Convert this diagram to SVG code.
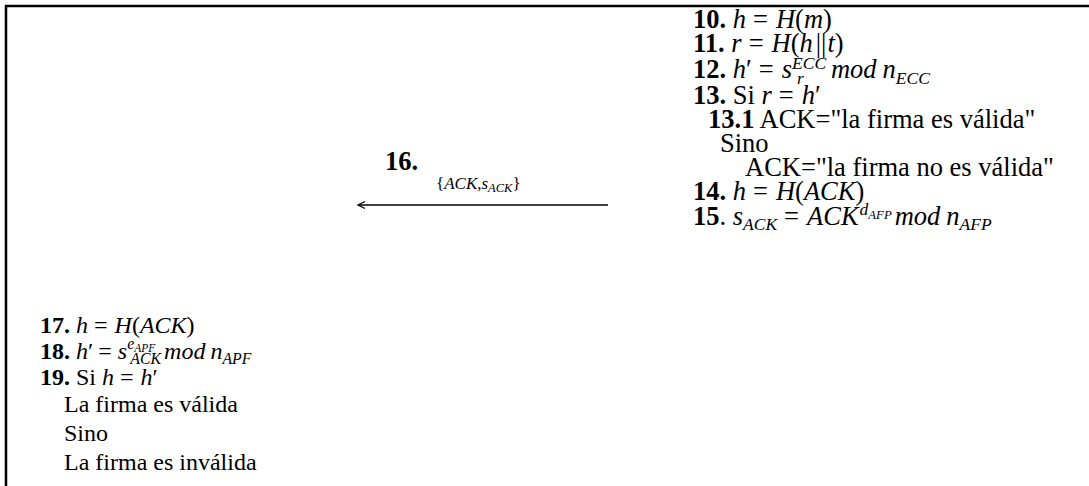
<svg xmlns="http://www.w3.org/2000/svg" width="1089" height="486" viewBox="0 0 1089 486">
  <style>
    text { font-family: "Liberation Serif", "Times New Roman", serif; fill: #000; }
    .r { font-size: 26.5px; }
    .l { font-size: 24px; }
    .b { font-weight: bold; }
    .m { font-style: italic; }
    .s { font-size: 0.66em; font-style: italic; }
    .ss { font-size: 0.48em; font-style: italic; }
    .lbl { font-size: 17px; }
    .lbl-s { font-size: 12.5px; font-style: italic; }
    .frame { fill: none; stroke: #000; stroke-width: 2.5; }
    .conn { stroke: #000; stroke-width: 1.3; fill: none; }
  </style>
  <defs>
    <marker id="head" viewBox="0 0 10 10" refX="9" refY="5" markerWidth="10" markerHeight="10" markerUnits="userSpaceOnUse" orient="auto">
      <path d="M2,1.5 L9,5 L2,8.5" fill="none" stroke="#000" stroke-width="1.2"/>
    </marker>
  </defs>

  <!-- frame: top rule and left rule -->
  <path class="frame" d="M6,486 V6 H1089"/>

  <!-- verifier side: steps 10-15 -->
  <g id="verifier">
    <text class="r" x="693" y="28"><tspan class="b">10.</tspan> <tspan class="m">h</tspan><tspan dx="7">=</tspan><tspan class="m" dx="8">H</tspan>(<tspan class="m">m</tspan>)</text>
    <text class="r" x="693" y="52"><tspan class="b">11.</tspan> <tspan class="m">r</tspan><tspan dx="7">=</tspan><tspan class="m" dx="8">H</tspan>(<tspan class="m">h</tspan><tspan dx="3">||</tspan><tspan class="m" dx="1">t</tspan>)</text>
    <text class="r" x="693" y="78"><tspan class="b">12.</tspan> <tspan class="m">h</tspan>′<tspan dx="7">=</tspan><tspan class="m" dx="8">s</tspan><tspan class="s" font-size="14" dy="-9">ECC</tspan><tspan class="s" font-size="16" dx="-29" dy="15">r</tspan><tspan class="m" dx="27" dy="-6">mod</tspan><tspan class="m" dx="6">n</tspan><tspan class="s" dy="6">ECC</tspan></text>
    <text class="r" x="693" y="104"><tspan class="b">13.</tspan> Si <tspan class="m">r</tspan><tspan dx="7">=</tspan><tspan class="m" dx="8">h</tspan>′</text>
    <text class="r" x="708" y="128"><tspan class="b">13.1</tspan> ACK="la firma es válida"</text>
    <text class="r" x="720" y="152">Sino</text>
    <text class="r" x="745" y="176">ACK="la firma no es válida"</text>
    <text class="r" x="693" y="200"><tspan class="b">14.</tspan> <tspan class="m">h</tspan><tspan dx="7">=</tspan><tspan class="m" dx="8">H</tspan>(<tspan class="m">ACK</tspan>)</text>
    <text class="r" x="693" y="225"><tspan class="b">15</tspan>. <tspan class="m">s</tspan><tspan class="s" dy="5">ACK</tspan><tspan dx="7" dy="-5">=</tspan><tspan class="m" dx="8">ACK</tspan><tspan class="s" font-size="16" dx="1" dy="-10">d</tspan><tspan class="ss" dy="4">AFP</tspan><tspan class="m" dx="3" dy="6">mod</tspan><tspan class="m" dx="6">n</tspan><tspan class="s" dy="5">AFP</tspan></text>
  </g>

  <!-- message 16 -->
  <g id="msg16">
    <text x="385" y="170" class="r b">16.</text>
    <text x="436" y="189" class="lbl">{<tspan class="m">ACK</tspan>,<tspan class="m">s</tspan><tspan class="lbl-s" dy="3">ACK</tspan><tspan dy="-3">}</tspan></text>
  </g>

  <!-- connectors -->
  <g id="connectors">
    <line class="conn" x1="608" y1="205" x2="358" y2="205" marker-end="url(#head)"/>
  </g>

  <!-- originator side: steps 17-19 -->
  <g id="originator">
    <text class="l" x="40" y="333"><tspan class="b">17.</tspan> <tspan class="m">h</tspan><tspan dx="6">=</tspan><tspan class="m" dx="7">H</tspan>(<tspan class="m">ACK</tspan>)</text>
    <text class="l" x="40" y="359"><tspan class="b">18.</tspan> <tspan class="m">h</tspan>′<tspan dx="5">=</tspan><tspan class="m" dx="6">s</tspan><tspan class="s" font-size="14" dy="-10">e</tspan><tspan class="ss" font-size="10" dy="3">APF</tspan><tspan class="s" font-size="14" dx="-25" dy="12">ACK</tspan><tspan class="m" dx="3" dy="-5">mod</tspan><tspan class="m" dx="5">n</tspan><tspan class="s" font-size="14" dy="5">APF</tspan></text>
    <text class="l" x="40" y="385"><tspan class="b">19.</tspan> Si <tspan class="m">h</tspan><tspan dx="6">=</tspan><tspan class="m" dx="7">h</tspan>′</text>
    <text class="l" x="64" y="412">La firma es válida</text>
    <text class="l" x="64" y="441">Sino</text>
    <text class="l" x="64" y="470">La firma es inválida</text>
  </g>
</svg>
